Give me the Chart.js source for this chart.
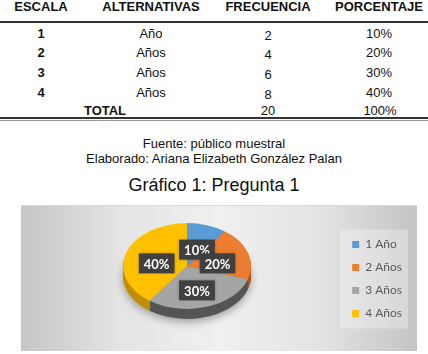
<!DOCTYPE html>
<html>
<head>
<meta charset="utf-8">
<script src="https://cdn.jsdelivr.net/npm/chart.js@4/dist/chart.umd.min.js"></script>
<style>
  body { margin: 0; background: #fff; }
  #page { position: relative; width: 428px; height: 354px; overflow: hidden; font-family: 'Liberation Sans', Arial, sans-serif; color: #111; }
  .cell { position: absolute; width: 120px; text-align: center; font-size: 13px; line-height: 15px; white-space: nowrap; }
  .bold { font-weight: bold; }
  .rule { position: absolute; left: 0; width: 428px; }
  .caption { position: absolute; left: 0; width: 428px; text-align: center; white-space: nowrap; }
  #chart-box {
    position: absolute; left: 21px; top: 205px; width: 396px; height: 146px;
    box-sizing: border-box; border-top: 1px solid #dadada;
    background: linear-gradient(90deg, #c6c6c6 0%, #e4e4e4 25%, #f0f0f0 50%, #e4e4e4 75%, #c4c4c4 100%);
  }
  #chart-box canvas { position: absolute; left: 0; top: 0; }
</style>
</head>
<body>
<div id="page">
  <div id="table"></div>
  <div class="rule" style="top:21px;height:2px;background:#333"></div>
  <div class="rule" style="top:117px;height:2px;background:#333"></div>
  <div class="rule" style="top:120px;height:1px;background:#999"></div>
  <div class="caption" style="top:136px;font-size:13px;line-height:15px">Fuente: público muestral</div>
  <div class="caption" style="top:151px;font-size:13px;line-height:15px">Elaborado: Ariana Elizabeth González Palan</div>
  <div class="caption" style="top:175px;font-size:18px;line-height:20px">Gráfico 1: Pregunta 1</div>
  <div id="chart-box"><canvas id="pie" width="396" height="146"></canvas></div>
</div>
<script>
// table data
const HEADERS = ['ESCALA', 'ALTERNATIVAS', 'FRECUENCIA', 'PORCENTAJE']
const ESCALA = ['1', '2', '3', '4']
const ALTERNATIVAS = ['Año', 'Años', 'Años', 'Años']
const FRECUENCIA = [2, 4, 6, 8]
const PORCENTAJE = ['10%', '20%', '30%', '40%']
const TOTAL_FRECUENCIA = 20
const TOTAL_PORCENTAJE = '100%'

// chart data
const PIE_LABELS = ['1 Año', '2 Años', '3 Años', '4 Años']
const PIE_VALUES = [10, 20, 30, 40]
const PIE_COLORS = ['#5b9bd5', '#ed7d31', '#a5a5a5', '#ffc000']
const SIDE_COLORS = ['#3f6f9e', '#ad561c', '#555555', '#c08f00']

const col_x = [41, 151, 268, 379]
const row_base = [38, 57, 77, 97]

function add_cell(text, cx, baseline, bold) {
  const div = document.createElement('div')
  div.className = bold ? 'cell bold' : 'cell'
  div.style.left = (cx - 60) + 'px'
  div.style.top = (baseline - 12) + 'px'
  div.textContent = text
  document.getElementById('table').appendChild(div)
}

HEADERS.forEach((h, i) => add_cell(h, col_x[i], 11, true))
ESCALA.forEach((d, i) => {
  add_cell(d, col_x[0], row_base[i], true)
  add_cell(ALTERNATIVAS[i], col_x[1], row_base[i], false)
  add_cell(FRECUENCIA[i], col_x[2], row_base[i] + 2, false)
  add_cell(PORCENTAJE[i], col_x[3], row_base[i], false)
})
add_cell('TOTAL', 105, 115, true)
add_cell(TOTAL_FRECUENCIA, col_x[2], 115, false)
add_cell(TOTAL_PORCENTAJE, col_x[3] + 1, 115, false)


// squashes the pie into a tilted disc and gives it a side wall
const tilt = {
  id: 'tilt',
  beforeDraw(chart) {
    // lighter panel behind the legend items
    const lg = chart.legend
    const hb = lg.legendHitBoxes
    const ctx = chart.ctx
    const top = hb[0].top - 9
    const bottom = hb[hb.length - 1].top + hb[hb.length - 1].height + 9
    ctx.save()
    ctx.fillStyle = 'rgba(255,255,255,0.3)'
    ctx.fillRect(hb[0].left - 12, top, lg.left + lg.width - hb[0].left + 8, bottom - top)
    ctx.restore()
  },
  beforeDatasetsDraw(chart, args, o) {
    const ctx = chart.ctx
    const arcs = chart.getDatasetMeta(0).data
    const cy = arcs[0].y
    for (let d = o.depth; d >= 1; d--) {
      ctx.save()
      if (d == o.depth) {
        ctx.shadowColor = 'rgba(0,0,0,0.35)'
        ctx.shadowBlur = 8
        ctx.shadowOffsetY = 3
      }
      ctx.translate(0, o.centerY + d)
      ctx.scale(1, o.ratio)
      ctx.translate(0, -cy)
      arcs.forEach((arc, i) => {
        ctx.beginPath()
        ctx.moveTo(arc.x, arc.y)
        ctx.arc(arc.x, arc.y, arc.outerRadius, arc.startAngle, arc.endAngle)
        ctx.closePath()
        ctx.fillStyle = SIDE_COLORS[i]
        ctx.fill()
      })
      ctx.restore()
    }
    ctx.save()
    ctx.translate(0, o.centerY)
    ctx.scale(1, o.ratio)
    ctx.translate(0, -cy)
  },
  afterDatasetsDraw(chart, args, o) {
    const ctx = chart.ctx
    ctx.restore()
    const arcs = chart.getDatasetMeta(0).data
    ctx.save()
    ctx.font = 'bold 13px Lato'
    ctx.textAlign = 'center'
    ctx.textBaseline = 'middle'
    arcs.forEach((arc, i) => {
      const mid = (arc.startAngle + arc.endAngle) / 2
      const x = arc.x + Math.cos(mid) * arc.outerRadius * o.labelPos
      const y = o.centerY + Math.sin(mid) * arc.outerRadius * o.labelPos * o.ratio + o.labelShift
      const text = chart.data.datasets[0].data[i] + '%'
      const w = ctx.measureText(text).width + 10
      ctx.shadowColor = 'rgba(0,0,0,0.3)'
      ctx.shadowBlur = 3
      ctx.fillStyle = '#404040'
      ctx.fillRect(x - w / 2, y - 10, w, 20)
      ctx.shadowColor = 'transparent'
      ctx.fillStyle = '#fff'
      ctx.fillText(text, x, y + 1)
    })
    ctx.restore()
  }
}

Chart.defaults.font.family = 'Lato'

const pie_chart = new Chart(document.getElementById('pie'), {
  type: 'pie',
  data: {
    labels: PIE_LABELS,
    datasets: [{
      data: PIE_VALUES,
      backgroundColor: PIE_COLORS,
      borderWidth: 0
    }]
  },
  options: {
    responsive: false,
    animation: false,
    devicePixelRatio: 1,
    layout: { padding: { left: 12, right: 5, top: 9, bottom: 9 } },
    plugins: {
      tooltip: { enabled: false },
      legend: {
        position: 'right',
        labels: {
          boxWidth: 7,
          boxHeight: 7,
          padding: 11,
          color: '#595959',
          font: { size: 12, family: 'Lato' }
        }
      },
      tilt: { depth: 10, ratio: 0.67, centerY: 60, labelPos: 0.5, labelShift: 4 }
    }
  },
  plugins: [tilt]
})
</script>
</body>
</html>
